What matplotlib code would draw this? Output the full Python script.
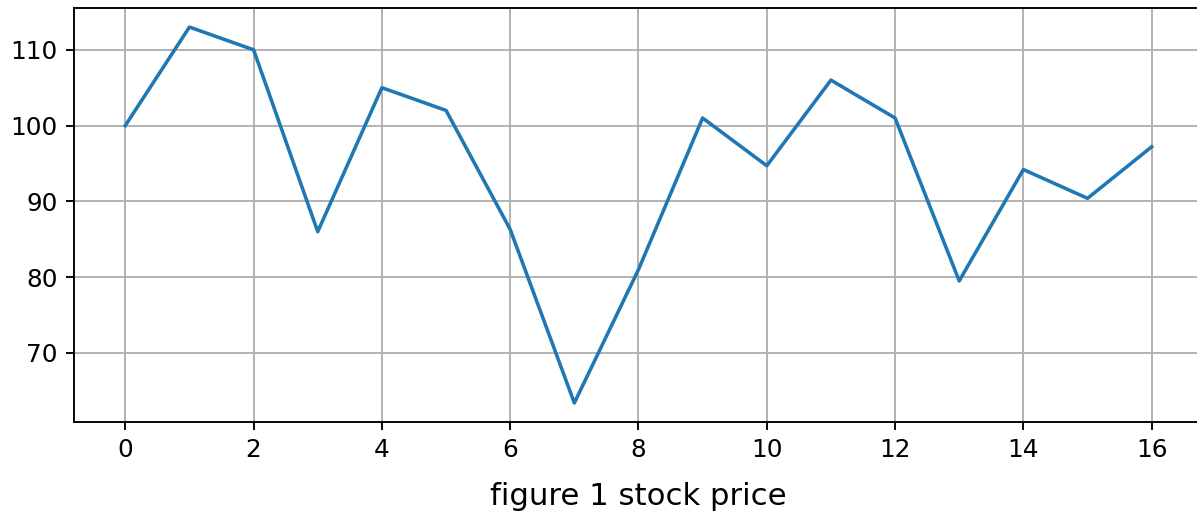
import matplotlib
matplotlib.use("Agg")
import matplotlib.pyplot as plt

# daily closing prices
days = list(range(17))
prices = [100, 113, 110, 86, 105, 102, 86.3, 63.4, 81, 101, 94.7, 106, 101, 79.5, 94.2, 90.4, 97.2]

fig = plt.figure(figsize=(1197 / 170, 517 / 170), dpi=170)
ax = fig.add_axes([0.0618, 0.1843, 0.9432, 0.7997])

ax.plot(days, prices, color="#1f77b4", linewidth=1.5)
ax.grid(True)
ax.set_xticks(range(0, 17, 2))
ax.tick_params(labelsize=10.5)
ax.set_xlabel("figure 1 stock price", fontsize=13, labelpad=8.5)

fig.savefig("out.png", dpi=170)
plt.close(fig)
